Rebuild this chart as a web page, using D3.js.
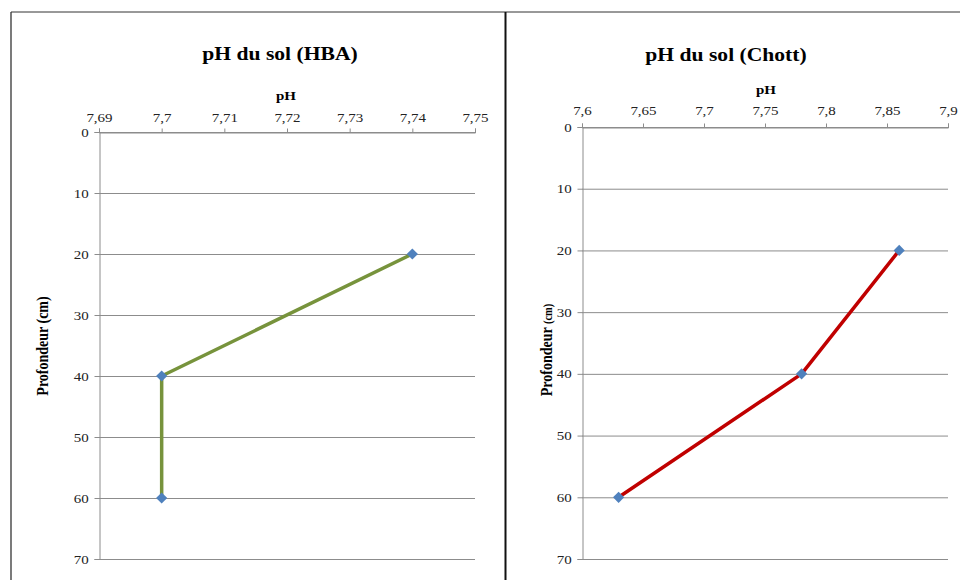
<!DOCTYPE html>
<html><head><meta charset="utf-8">
<script src="https://cdn.jsdelivr.net/npm/d3@7"></script>
<style>body{margin:0;background:#fff}svg{display:block}
svg text{font-family:"Liberation Serif","Times New Roman","DejaVu Serif",serif !important;}
</style>
</head><body><svg id="c" width="960" height="580"></svg>
<script>
const depthTicks = [0,10,20,30,40,50,60,70];
const hbaDepth = [20,40,60];
const hbaPH = [7.74,7.70,7.70];
const hbaTicks = [7.69,7.70,7.71,7.72,7.73,7.74,7.75];
const chottDepth = [20,40,60];
const chottPH = [7.86,7.78,7.63];
const chottTicks = [7.60,7.65,7.70,7.75,7.80,7.85,7.90];

const svg = d3.select("#c");
const SX = 1.2; // horizontal stretch of the reference text

svg.append("line").attr("x1",11).attr("x2",11).attr("y1",12).attr("y2",580).attr("stroke","#222").attr("stroke-width",1.2);
svg.append("line").attr("x1",11).attr("x2",960).attr("y1",12).attr("y2",12).attr("stroke","#333").attr("stroke-width",1);
svg.append("line").attr("x1",505.5).attr("x2",505.5).attr("y1",12).attr("y2",580).attr("stroke","#111").attr("stroke-width",2);

function fmt(v){ return String(+v.toFixed(2)).replace(".", ","); }

function panel(o){
  const g = svg.append("g");
  const x = d3.scaleLinear().domain(o.xDomain).range([o.left,o.right]);
  const y = d3.scaleLinear().domain([0,70]).range([o.top,o.bottom]);
  g.selectAll(".grid").data(depthTicks).enter().append("line")
    .attr("x1",o.left).attr("x2",o.right).attr("y1",d=>y(d)+0.5).attr("y2",d=>y(d)+0.5)
    .attr("stroke","#8c8c8c").attr("stroke-width",1);
  const xa = g.append("g").attr("transform",`translate(0,${y(0)+0.5})`)
    .call(d3.axisTop(x).tickValues(o.xTicks).tickFormat(fmt).tickSize(4).tickPadding(o.xPad));
  xa.attr("font-family",null);
  xa.select(".domain").attr("stroke","#8c8c8c");
  xa.selectAll(".tick line").attr("stroke","#8c8c8c");
  xa.selectAll("text").attr("font-size",12.5).attr("fill","#222").attr("transform",`scale(${SX},1)`);
  const ya = g.append("g").attr("transform",`translate(${o.left+0.5},0)`)
    .call(d3.axisLeft(y).tickValues(depthTicks).tickSize(5).tickPadding(o.yPad));
  ya.attr("font-family",null);
  ya.select(".domain").attr("stroke","#8c8c8c");
  ya.selectAll(".tick line").attr("stroke","#8c8c8c");
  ya.selectAll("text").attr("font-size",12.5).attr("fill","#222").attr("transform",`scale(${SX},1)`);
  const pts = o.ph.map((p,i)=>[p,o.depth[i]]);
  g.append("path").datum(pts)
    .attr("d", d3.line().x(d=>x(d[0])).y(d=>y(d[1])))
    .attr("fill","none").attr("stroke",o.color).attr("stroke-width",3.5).attr("stroke-linejoin","round");
  g.selectAll(".m").data(pts).enter().append("path")
    .attr("d", d3.symbol().type(d3.symbolDiamond2).size(80))
    .attr("transform", d=>`translate(${x(d[0])},${y(d[1])})`)
    .attr("fill","#4F81BD");
  g.append("text").attr("transform",`translate(${o.titleX},${o.titleY}) scale(${SX},1)`).attr("text-anchor","middle")
    .attr("font-weight","bold").attr("font-size",18).text(o.title);
  g.append("text").attr("transform",`translate(${o.axisTitleX},${o.axisTitleY}) scale(${SX},1)`).attr("text-anchor","middle")
    .attr("font-weight","bold").attr("font-size",12.5).text("pH");
  const yt = g.append("text").attr("transform",`translate(${o.yTitleX},${o.yTitleY}) scale(${SX},1) rotate(-90)`)
    .attr("text-anchor","middle").attr("font-weight","bold").attr("font-size",o.yTitleSize);
  yt.append("tspan").text("Profondeur ");
  yt.append("tspan").attr("font-size",o.cmSize).text("(cm)");
}

panel({xDomain:[7.69,7.75], xTicks:hbaTicks, left:99, right:475, top:132, bottom:559,
  ph:hbaPH, depth:hbaDepth, color:"#77933C", title:"pH du sol (HBA)", titleX:280, titleY:60,
  axisTitleX:286, axisTitleY:100, yTitleX:48, yTitleY:346, xPad:7, yPad:4, yTitleSize:14, cmSize:14});
panel({xDomain:[7.60,7.90], xTicks:chottTicks, left:582, right:948, top:127, bottom:559,
  ph:chottPH, depth:chottDepth, color:"#C00000", title:"pH du sol (Chott)", titleX:726, titleY:61,
  axisTitleX:766, axisTitleY:94, yTitleX:552, yTitleY:350, xPad:9, yPad:4, yTitleSize:14, cmSize:10.5});
</script></body></html>
